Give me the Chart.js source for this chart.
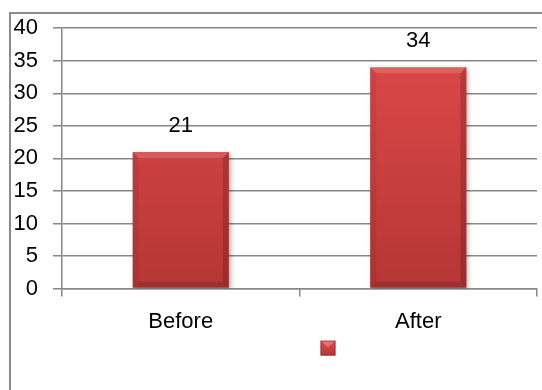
<!DOCTYPE html>
<html>
<head>
<meta charset="utf-8">
<title>Before / After</title>
<script src="https://cdn.jsdelivr.net/npm/chart.js@4.4.1/dist/chart.umd.min.js"></script>
<style>
  html, body { margin: 0; padding: 0; background: #fff; overflow: hidden; }
  #wrap { position: relative; width: 542px; height: 390px; }
  #frame { position: absolute; left: 9px; top: 12px; width: 600px; height: 420px;
           border-left: 2px solid #8c8c8c; border-top: 2px solid #8c8c8c; }
  #chart { position: absolute; left: 0; top: 0; }
</style>
</head>
<body>
<div id="wrap">
  <div id="frame"></div>
  <canvas id="chart" width="542" height="390"></canvas>
</div>
<script>
const categories = ['Before', 'After'];
const counts = [21, 34];
const yTicks = [0, 5, 10, 15, 20, 25, 30, 35, 40];

const gridGrey = '#878787';
const font = { family: "'Liberation Sans', Arial, sans-serif", size: 22 };

// red fill, lighter at the top like the bevelled Excel bars
function barFill(context) {
  const area = context.chart.chartArea;
  if (!area) return '#cc4040';
  const g = context.chart.ctx.createLinearGradient(0, area.top, 0, area.bottom);
  g.addColorStop(0, '#e04a4a');
  g.addColorStop(1, '#b63636');
  return g;
}

// soft drop shadow under the bars
const barShadow = {
  id: 'barShadow',
  beforeDatasetsDraw(chart) {
    const ctx = chart.ctx;
    ctx.save();
    ctx.shadowColor = 'rgba(0,0,0,0.35)';
    ctx.shadowBlur = 5;
    ctx.shadowOffsetX = 2;
    ctx.shadowOffsetY = 2;
  },
  afterDatasetsDraw(chart) {
    chart.ctx.restore();
  }
};

// bevel edges + value labels on top
const barDecor = {
  id: 'barDecor',
  afterDatasetsDraw(chart) {
    const ctx = chart.ctx;
    const meta = chart.getDatasetMeta(0);
    const b = 6;
    ctx.save();
    meta.data.forEach((bar, i) => {
      const x0 = bar.x - bar.width / 2, x1 = bar.x + bar.width / 2;
      const y0 = bar.y, y1 = bar.base;
      // top
      ctx.fillStyle = 'rgba(255,255,255,0.14)';
      ctx.beginPath();
      ctx.moveTo(x0, y0); ctx.lineTo(x1, y0); ctx.lineTo(x1 - b, y0 + b); ctx.lineTo(x0 + b, y0 + b);
      ctx.closePath(); ctx.fill();
      // left
      ctx.fillStyle = 'rgba(0,0,0,0.06)';
      ctx.beginPath();
      ctx.moveTo(x0, y0); ctx.lineTo(x0 + b, y0 + b); ctx.lineTo(x0 + b, y1 - b); ctx.lineTo(x0, y1);
      ctx.closePath(); ctx.fill();
      // right
      ctx.fillStyle = 'rgba(0,0,0,0.16)';
      ctx.beginPath();
      ctx.moveTo(x1, y0); ctx.lineTo(x1 - b, y0 + b); ctx.lineTo(x1 - b, y1 - b); ctx.lineTo(x1, y1);
      ctx.closePath(); ctx.fill();
      // bottom
      ctx.fillStyle = 'rgba(0,0,0,0.12)';
      ctx.beginPath();
      ctx.moveTo(x0, y1); ctx.lineTo(x0 + b, y1 - b); ctx.lineTo(x1 - b, y1 - b); ctx.lineTo(x1, y1);
      ctx.closePath(); ctx.fill();

      ctx.fillStyle = '#000';
      ctx.font = font.size + 'px ' + font.family;
      ctx.textAlign = 'center';
      ctx.textBaseline = 'middle';
      ctx.fillText(String(counts[i]), bar.x, bar.y - 26);
    });
    ctx.restore();
  }
};

// legend entry: a single swatch, the series has no name
const legendSwatch = {
  id: 'legendSwatch',
  afterDraw(chart) {
    const ctx = chart.ctx;
    const area = chart.chartArea;
    const x = (area.left + area.right) / 2 + 21;
    const y = area.bottom + 52;
    ctx.save();
    const g = ctx.createLinearGradient(0, y, 0, y + 15);
    g.addColorStop(0, '#e04a4a');
    g.addColorStop(1, '#b63636');
    ctx.fillStyle = g;
    ctx.fillRect(x, y, 15, 15);
    ctx.fillStyle = 'rgba(255,255,255,0.25)';
    ctx.beginPath();
    ctx.moveTo(x, y); ctx.lineTo(x + 15, y); ctx.lineTo(x + 7.5, y + 7); ctx.closePath(); ctx.fill();
    ctx.strokeStyle = 'rgba(120,30,30,0.5)';
    ctx.lineWidth = 1;
    ctx.strokeRect(x + 0.5, y + 0.5, 14, 14);
    ctx.restore();
  }
};

new Chart(document.getElementById('chart').getContext('2d'), {
  type: 'bar',
  data: {
    labels: categories,
    datasets: [{
      label: '',
      data: counts,
      backgroundColor: barFill,
      borderWidth: 0,
      categoryPercentage: 1,
      barPercentage: 0.405
    }]
  },
  options: {
    responsive: false,
    animation: false,
    devicePixelRatio: 1,
    layout: { padding: { left: 10, right: 5, top: 28, bottom: 43 } },
    plugins: { legend: { display: false }, tooltip: { enabled: false } },
    scales: {
      x: {
        grid: { drawOnChartArea: false, drawTicks: true, tickLength: 8, color: gridGrey, lineWidth: 1.5 },
        border: { color: gridGrey, width: 1.5 },
        ticks: { color: '#000', font: font, padding: 12 }
      },
      y: {
        min: 0,
        max: 40,
        afterFit(scale) { scale.width = 52; },
        afterBuildTicks(scale) { scale.ticks = yTicks.map(v => ({ value: v })); },
        grid: { color: gridGrey, lineWidth: 1.5, tickLength: 9 },
        border: { color: gridGrey, width: 1.5 },
        ticks: { color: '#000', font: font, padding: 15 }
      }
    }
  },
  plugins: [barShadow, barDecor, legendSwatch]
});
</script>
</body>
</html>
